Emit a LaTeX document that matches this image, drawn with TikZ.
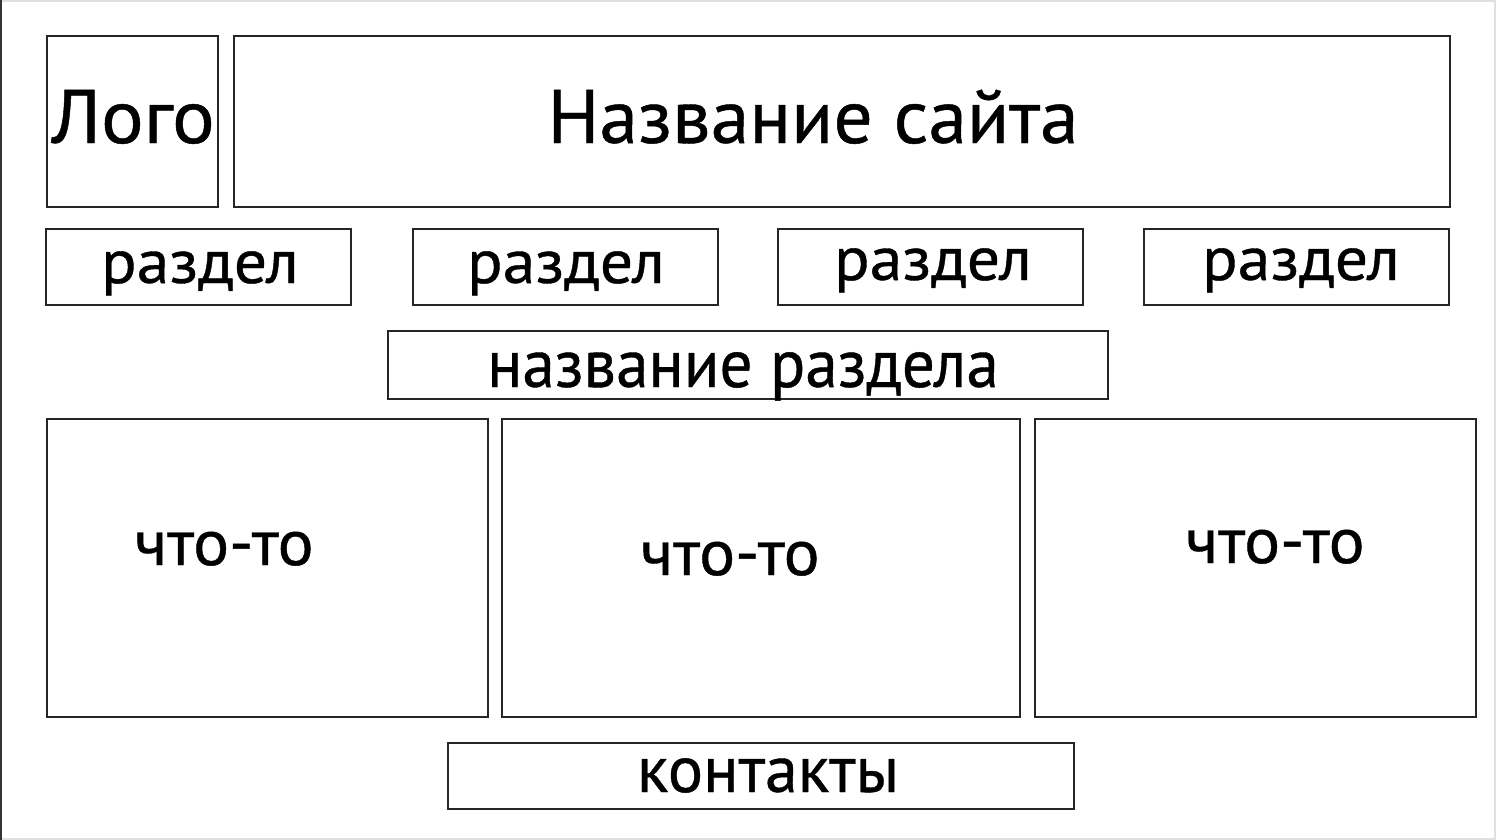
\documentclass[tikz,border=0pt]{standalone}
\usepackage{fontspec}
\setmainfont{PT Sans}[FakeBold=0.6]

\tikzset{
  frame/.style={draw=black!85,line width=1.3pt},
  lbl/.style={anchor=base,inner sep=0pt},
}
\newcommand{\fs}[1]{\fontsize{#1}{#1}\selectfont}

\begin{document}
\begin{tikzpicture}[x=1pt,y=-1pt]
  \useasboundingbox (0,0) rectangle (1496,840);
  \fill[white] (0,0) rectangle (1496,840);
  \draw[black!12,line width=1.5pt] (1,1) -- (1495,1) -- (1495,839) -- (1,839);
  \draw[black!80,line width=1.5pt] (1,0) -- (1,840);

  % header
  \draw[frame] (47,36) rectangle (218,207);
  \draw[frame] (234,36) rectangle (1450,207);
  \node[lbl,font=\fs{76},xscale=1.05] (logo) at (133,143) {Лого};
  \node[lbl,font=\fs{76},xscale=1.02] (site) at (813,143) {Название сайта};

  % menu
  \draw[frame] (46,229) rectangle (351,305);
  \draw[frame] (413,229) rectangle (718,305);
  \draw[frame] (778,229) rectangle (1083,305);
  \draw[frame] (1144,229) rectangle (1449,305);
  \node[lbl,font=\fs{62},xscale=1.06] (sec1) at (200,283) {раздел};
  \node[lbl,font=\fs{62},xscale=1.06] (sec2) at (566,283) {раздел};
  \node[lbl,font=\fs{62},xscale=1.06] (sec3) at (933,280) {раздел};
  \node[lbl,font=\fs{62},xscale=1.06] (sec4) at (1301,280) {раздел};

  \draw[frame] (388,331) rectangle (1108,399);
  \node[lbl,font=\fs{68},xscale=0.96] (title) at (743,387) {название раздела};

  % content
  \draw[frame] (47,419) rectangle (488,717);
  \draw[frame] (502,419) rectangle (1020,717);
  \draw[frame] (1035,419) rectangle (1476,717);
  \node[lbl,font=\fs{65},xscale=1.035] (item1) at (224,565) {что-то};
  \node[lbl,font=\fs{65},xscale=1.035] (item2) at (730,575) {что-то};
  \node[lbl,font=\fs{65},xscale=1.035] (item3) at (1275,563) {что-то};

  % footer
  \draw[frame] (448,743) rectangle (1074,809);
  \node[lbl,font=\fs{66}] (contacts) at (768,792) {контакты};
\end{tikzpicture}
\end{document}
